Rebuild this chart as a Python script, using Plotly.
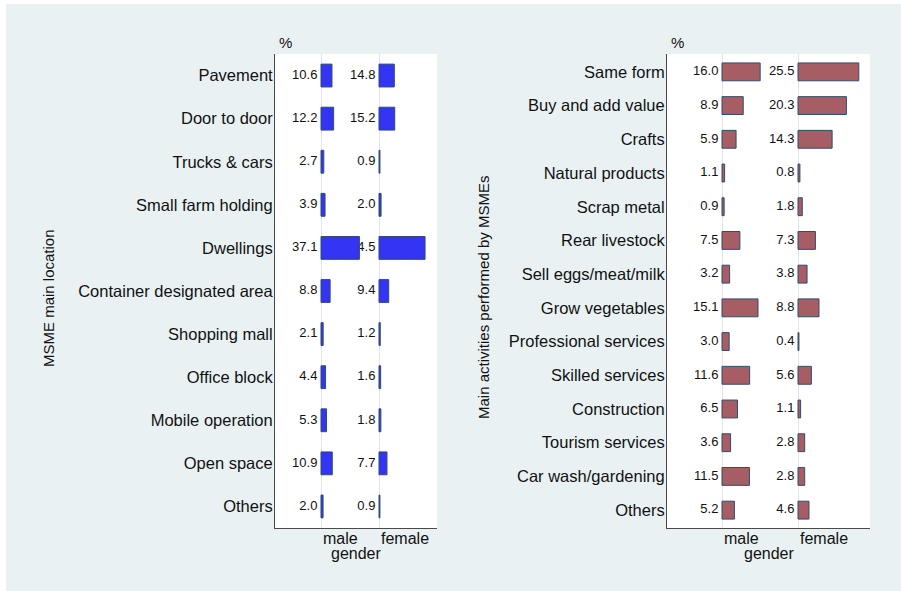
import plotly.graph_objects as go

# ---------------- data ----------------
loc_categories = ["Pavement", "Door to door", "Trucks & cars", "Small farm holding",
                  "Dwellings", "Container designated area", "Shopping mall",
                  "Office block", "Mobile operation", "Open space", "Others"]
loc_male = [10.6, 12.2, 2.7, 3.9, 37.1, 8.8, 2.1, 4.4, 5.3, 10.9, 2.0]
loc_female = [14.8, 15.2, 0.9, 2.0, 44.5, 9.4, 1.2, 1.6, 1.8, 7.7, 0.9]

act_categories = ["Same form", "Buy and add value", "Crafts", "Natural products",
                  "Scrap metal", "Rear livestock", "Sell eggs/meat/milk",
                  "Grow vegetables", "Professional services", "Skilled services",
                  "Construction", "Tourism services", "Car wash/gardening", "Others"]
act_male = [16.0, 8.9, 5.9, 1.1, 0.9, 7.5, 3.2, 15.1, 3.0, 11.6, 6.5, 3.6, 11.5, 5.2]
act_female = [25.5, 20.3, 14.3, 0.8, 1.8, 7.3, 3.8, 8.8, 0.4, 5.6, 1.1, 2.8, 2.8, 4.6]

gender_labels = ["male", "female"]

# ---------------- layout helpers ----------------
W, H = 901, 591
FONT = "Liberation Sans, Arial, Helvetica, sans-serif"
BG = "#E9F1F3"
BLUE = "#3434F4"
RED = "#A65E64"
OUTLINE = "#2F4D6E"
ZERO = "#DCE6EB"
AXIS = "#4A4A4A"


def px(x):
    return x / W


def py(y):
    return 1 - y / H


top, bottom = 54, 528
ydom = [py(bottom), py(top)]

# left panel geometry (pixels)
L_left, L_right, L_m0, L_f0, L_s = 275, 437, 321, 379, 1.035
# right panel geometry
R_left, R_right, R_m0, R_f0, R_s = 667, 870, 722, 798, 2.385


def xr(left, right, zero, s):
    return [-(zero - left) / s, (right - zero) / s]


fig = go.Figure()


def add_panel(cats, male, female, color, xf, xm, ya):
    fmt = lambda v: [f"{x:.1f}\u00a0" for x in v]
    common = dict(orientation="h", width=0.53, marker=dict(color=color, line=dict(color=OUTLINE, width=1)),
                  hoverinfo="skip", showlegend=False)
    # female (primary axis, drawn below)
    fig.add_trace(go.Bar(x=female, y=cats, xaxis=xf, yaxis=ya, **common))
    fig.add_trace(go.Scatter(x=[0] * len(cats), y=cats, xaxis=xf, yaxis=ya, mode="text",
                             text=fmt(female), textposition="middle left",
                             textfont=dict(size=13, color="#111", family=FONT),
                             hoverinfo="skip", showlegend=False, cliponaxis=False))
    # male (overlaying axis, drawn on top)
    fig.add_trace(go.Bar(x=male, y=cats, xaxis=xm, yaxis=ya, **common))
    fig.add_trace(go.Scatter(x=[0] * len(cats), y=cats, xaxis=xm, yaxis=ya, mode="text",
                             text=fmt(male), textposition="middle left",
                             textfont=dict(size=13, color="#111", family=FONT),
                             hoverinfo="skip", showlegend=False, cliponaxis=False))


add_panel(loc_categories, loc_male, loc_female, BLUE, "x", "x2", "y")
add_panel(act_categories, act_male, act_female, RED, "x3", "x4", "y2")

xcommon = dict(showgrid=False, showticklabels=False, ticks="", zeroline=True,
               zerolinecolor=ZERO, zerolinewidth=1, fixedrange=True)

n1, n2 = len(loc_categories), len(act_categories)

fig.update_layout(
    width=W, height=H,
    margin=dict(l=0, r=0, t=0, b=0),
    paper_bgcolor=BG, plot_bgcolor="white",
    barmode="overlay",
    font=dict(family=FONT, size=16, color="#111"),
    xaxis=dict(domain=[px(L_left), px(L_right)], range=xr(L_left, L_right, L_f0, L_s), anchor="y",
               showline=True, linecolor=AXIS, linewidth=1, **xcommon),
    xaxis2=dict(domain=[px(L_left), px(L_right)], range=xr(L_left, L_right, L_m0, L_s), anchor="y",
                overlaying="x", showline=False, **xcommon),
    xaxis3=dict(domain=[px(R_left), px(R_right)], range=xr(R_left, R_right, R_f0, R_s), anchor="y2",
                showline=True, linecolor=AXIS, linewidth=1, **xcommon),
    xaxis4=dict(domain=[px(R_left), px(R_right)], range=xr(R_left, R_right, R_m0, R_s), anchor="y2",
                overlaying="x3", showline=False, **xcommon),
    yaxis=dict(domain=ydom, anchor="x", type="category", categoryorder="array",
               categoryarray=loc_categories, range=[n1 - 0.5, -0.5], showgrid=False,
               showline=True, linecolor=AXIS, linewidth=1, ticks="", ticklabelstandoff=-2,
               tickfont=dict(size=16.5, color="#111"), fixedrange=True),
    yaxis2=dict(domain=ydom, anchor="x3", type="category", categoryorder="array",
                categoryarray=act_categories, range=[n2 - 1 + 0.53, -0.53], showgrid=False,
                showline=True, linecolor=AXIS, linewidth=1, ticks="", ticklabelstandoff=-2,
                tickfont=dict(size=16.5, color="#111"), fixedrange=True),
)

# white strips at the left/top edge of the graph region
fig.add_shape(type="rect", xref="paper", yref="paper", x0=0, x1=px(6), y0=0, y1=1,
              fillcolor="white", line_width=0, layer="below")
fig.add_shape(type="rect", xref="paper", yref="paper", x0=0, x1=1, y0=py(4), y1=1,
              fillcolor="white", line_width=0, layer="below")

ann = []


def text(x, y, s, size=16, xanchor="center", angle=0):
    ann.append(dict(x=px(x), y=py(y), xref="paper", yref="paper", text=s, showarrow=False,
                    xanchor=xanchor, yanchor="middle", textangle=angle,
                    font=dict(size=size, family=FONT, color="#111")))


# percent signs
text(285, 43, "%", 15)
text(677, 43, "%", 15)
# gender labels
text(L_m0, 538, gender_labels[0], 16, "left")
text(L_f0, 538, gender_labels[1], 16, "left")
text((L_left + L_right) / 2, 553, "gender", 16)
text(R_m0, 538, gender_labels[0], 16, "left")
text(R_f0, 538, gender_labels[1], 16, "left")
text((R_left + R_right) / 2, 553, "gender", 16)
# y titles
text(48, 298, "MSME main location", 15, angle=-90)
text(483, 298, "Main activities performed by MSMEs", 15, angle=-90)

fig.update_layout(annotations=ann)

fig.write_html("out.html", config={"displayModeBar": False},
               post_script="document.documentElement.style.margin='0';document.body.style.margin='0';"
                           "document.body.style.padding='0';document.body.style.overflow='hidden';")
